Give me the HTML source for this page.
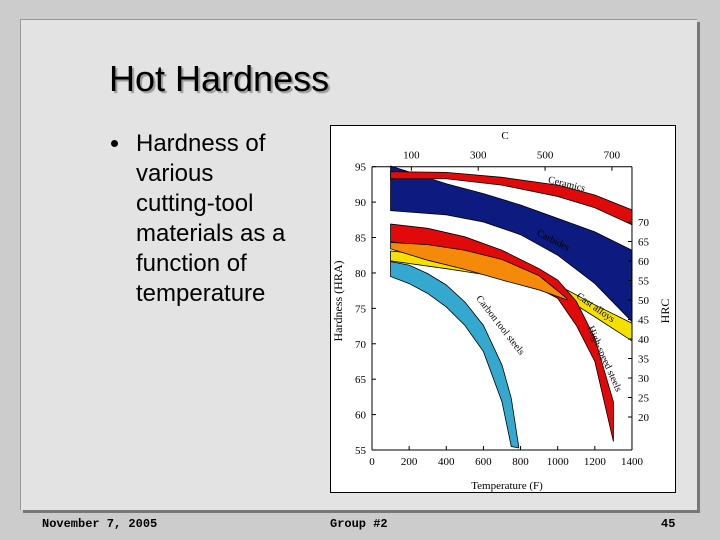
<!DOCTYPE html>
<html><head><meta charset="utf-8"><style>
body{margin:0;width:720px;height:540px;background:#cccccc;position:relative;overflow:hidden;font-family:"Liberation Sans",sans-serif}
#panel{position:absolute;left:20px;top:19px;width:676px;height:490px;background:#e3e3e3;border-top:1px solid #999;border-left:1px solid #999;box-shadow:3px 3px 0 #777}
#title{position:absolute;left:109px;top:58px;font-size:36px;color:#000;text-shadow:2px 2px 1px #999}
#bullets{position:absolute;left:136px;top:129px;font-size:24px;line-height:30px;color:#000;white-space:nowrap}
#dot{position:absolute;left:111px;top:140px;width:7px;height:7px;border-radius:50%;background:#000}
.foot{position:absolute;top:517px;font-family:"Liberation Mono",monospace;font-weight:bold;font-size:12px}
#chart{position:absolute;left:330px;top:125px}
</style></head><body>
<div id="panel"></div>
<div id="title">Hot Hardness</div>
<div id="dot"></div>
<div id="bullets">Hardness of<br>various<br>cutting-tool<br>materials as a<br>function of<br>temperature</div>
<div class="foot" style="left:42px">November 7, 2005</div>
<div class="foot" style="left:330px">Group #2</div>
<div class="foot" style="left:661px">45</div>
<svg id="chart" width="346" height="368" font-family="Liberation Serif, serif" font-size="11">
<rect x="0.5" y="0.5" width="345" height="367" fill="#fff" stroke="#000"/>
<g id="bands"></g><g id="axes"></g>
</svg>
<script>
const fTicks=[0,200,400,600,800,1000,1200,1400];
const hraTicks=[55,60,65,70,75,80,85,90,95];
const hrcTicks=[70,65,60,55,50,45,40,35,30,25,20];
const cTicks=[100,300,500,700];
const cerT=[100,400,700,1000,1200,1400];
const cerHi=[94.3,94.2,93.5,92.4,91.0,88.9];
const cerLo=[93.3,93.3,92.4,90.8,89.2,86.8];
const carbT=[100,400,600,800,1000,1200,1400];
const carbHi=[95.1,92.6,91.2,89.6,87.7,85.8,83.2];
const carbLo=[88.8,88.2,87.2,85.4,82.5,78.5,73.1];
const castT=[100,400,600,800,1000,1200,1400];
const castHi=[83.1,82.3,81.6,80.9,78.3,75.5,72.9];
const castLo=[81.7,80.6,79.8,78.8,77.1,73.8,70.4];
const hssT=[100,300,500,700,900,1000,1100,1200,1300];
const hssHi=[86.9,86.3,85.1,83.2,80.6,79.0,76.0,70.8,61.8];
const hssLo=[84.4,83.7,82.3,80.2,77.8,76.4,72.6,67.5,56.2];
const orT=[100,300,500,700,900,1050];
const orHi=[84.3,84.0,83.2,81.9,79.6,76.4];
const orLo=[83.4,81.8,80.5,79.0,77.6,76.2];
const ctsT=[100,200,300,400,500,600,700,750,790];
const ctsHi=[81.6,81.1,79.9,78.3,75.9,72.6,67.0,62.3,55.5];
const ctsLo=[79.5,78.5,77.1,75.2,72.6,68.9,61.8,55.5,55.3];
const NS='http://www.w3.org/2000/svg';
const X=f=>42+f*0.1857;
const Y=h=>41.7+(95-h)*7.083;
const HRCY=i=>97+i*19.5;
const bands=document.getElementById('bands'),axes=document.getElementById('axes');
function band(t,hi,lo,col,name){
  let d='M'+t.map((v,i)=>X(v)+','+Y(hi[i])).join(' L');
  for(let i=t.length-1;i>=0;i--)d+=' L'+X(t[i])+','+Y(lo[i]);
  const p=document.createElementNS(NS,'path');
  p.setAttribute('d',d+'Z');p.setAttribute('fill',col);p.setAttribute('stroke','#000');p.setAttribute('stroke-width','0.8');
  
  
  bands.appendChild(p);
}
band(carbT,carbHi,carbLo,'#0d1a80','band-carbides');
band(cerT,cerHi,cerLo,'#e00a0a','band-ceramics');
band(castT,castHi,castLo,'#f5e000','band-cast-alloys');
band(hssT,hssHi,hssLo,'#e00a0a','band-high-speed-steels');
band(orT,orHi,orLo,'#f58a0a','band-high-speed-overlap');
band(ctsT,ctsHi,ctsLo,'#35a8d0','band-carbon-tool-steels');
function txt(x,y,s,anchor,name,rot,size,col){
  const t=document.createElementNS(NS,'text');
  t.setAttribute('x',x);t.setAttribute('y',y);t.setAttribute('text-anchor',anchor||'middle');
  if(rot)t.setAttribute('transform','rotate('+rot+' '+x+' '+y+')');
  if(size)t.setAttribute('font-size',size);
  t.setAttribute('fill',col||'#000');
  t.textContent=s;
  
  
  axes.appendChild(t);
}
function line(x1,y1,x2,y2,name){
  const l=document.createElementNS(NS,'line');
  l.setAttribute('x1',x1);l.setAttribute('y1',y1);l.setAttribute('x2',x2);l.setAttribute('y2',y2);l.setAttribute('stroke','#000');
  
  
  axes.appendChild(l);
}
const x0=X(0),x1=X(1400),y0=Y(95),y1=Y(55);
line(x0,y0,x0,y1,'y-axis-left');line(x0,y1,x1,y1,'x-axis');line(x1,y0,x1,y1,'y-axis-right');line(x0,y0,x1,y0,'x-axis-top');
fTicks.forEach(f=>{line(X(f),y1,X(f),y1-4,'x-tick');txt(X(f),y1+15,String(f),'middle','x-tick-label');});
hraTicks.forEach(h=>{line(x0,Y(h),x0+4,Y(h),'y-tick');txt(x0-6,Y(h)+4,String(h),'end','y-tick-label');});
hrcTicks.forEach((h,i)=>{const y=HRCY(i);line(x1,y,x1-4,y,'hrc-tick');txt(x1+6,y+4,String(h),'start','hrc-tick-label');});
cTicks.forEach(c=>{const f=c*1.8+32;line(X(f),y0,X(f),y0+4,'c-tick');txt(X(f),y0-8,String(c),'middle','c-tick-label');});
txt(175,14,'C','middle','c-axis-title');
txt(177,364,'Temperature  (F)','middle','x-axis-title');
txt(12,176,'Hardness  (HRA)','middle','y-axis-title',-90,12);
txt(339,186,'HRC','middle','hrc-axis-title',-90,12);
txt(236,62,'Ceramics','middle','label-ceramics',14,10);
txt(222,118,'Carbides','middle','label-carbides',27,10);
txt(264,185,'Cast  alloys','middle','label-cast-alloys',35,10);
txt(272,235,'High-speed  steels','middle','label-high-speed-steels',66,10);
txt(168,202,'Carbon  tool  steels','middle','label-carbon-tool-steels',52,10);
</script>
</body></html>
